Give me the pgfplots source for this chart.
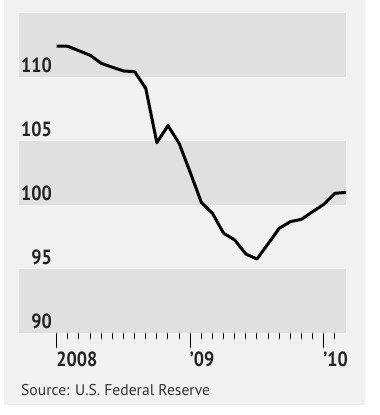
\documentclass[border=0pt]{standalone}
\usepackage{fontspec}
\setmainfont{PT Sans}
\newfontfamily\labfont[FakeStretch=0.88]{PT Sans}
\usepackage{pgfplots}
\pgfplotsset{compat=1.18}
\definecolor{panel}{HTML}{F1F1F1}
\definecolor{band}{HTML}{E0E0E0}
\definecolor{labelgray}{HTML}{222222}
\definecolor{srcgray}{HTML}{333333}
\pgfplotstableread{
m v
0 112.42
1 112.40
2 112.05
3 111.70
4 111.07
5 110.76
6 110.47
7 110.42
8 109.12
9 104.87
10 106.20
11 104.82
12 102.55
13 100.20
14 99.35
15 97.79
16 97.27
17 96.17
18 95.78
19 96.97
20 98.18
21 98.70
22 98.88
23 99.48
24 100.05
25 100.91
26 100.99
}\datatable
\begin{document}
\begin{tikzpicture}
\useasboundingbox (0,0) rectangle (380bp,-415bp);
\fill[white] (0,0) rectangle (380bp,-415bp);
\fill[panel] (4bp,0) rectangle (365bp,-405bp);
\begin{axis}[
  at={(19bp,-333bp)}, anchor=south west,
  scale only axis, width=327bp, height=320bp,
  xmin=-3.39, xmax=26, ymin=90, ymax=115,
  axis x line*=bottom, axis y line*=left,
  axis line style={draw=none},
  axis on top,
  clip=false,
  tick align=outside,
  major tick length=15bp, minor tick length=6bp,
  xtick={0,12,24},
  minor xtick={1,2,3,4,5,6,7,8,9,10,11,13,14,15,16,17,18,19,20,21,22,23,25},
  xticklabels={2008,’09,’10},
  xtick style={black, line width=1bp},
  ytick={90,95,100,105,110},
  yticklabels={90,95,100,105,110},
  ytick style={draw=none},
  xticklabel style={anchor=north west, inner sep=0pt, yshift=-4bp, xshift=-0.5bp,
    font=\labfont\bfseries\fontsize{20.5bp}{22bp}\selectfont, text=labelgray},
  yticklabel style={anchor=south east, inner sep=0pt, xshift=48bp, yshift=4bp,
    font=\labfont\bfseries\fontsize{20.5bp}{22bp}\selectfont, text=labelgray},
]
\fill[band] (axis cs:-3.39,110) rectangle (axis cs:26,115);
\fill[band] (axis cs:-3.39,100) rectangle (axis cs:26,105);
\fill[band] (axis cs:-3.39,90) rectangle (axis cs:26,95);
\addplot[black, line width=3bp, line join=round, no markers] table[x=m, y=v] {\datatable};
\end{axis}
\node[anchor=base west, inner sep=0pt, text=srcgray, font=\fontsize{15.6bp}{18bp}\selectfont] at (21bp,-395.7bp) {Source: U.S. Federal Reserve};
\end{tikzpicture}
\end{document}
